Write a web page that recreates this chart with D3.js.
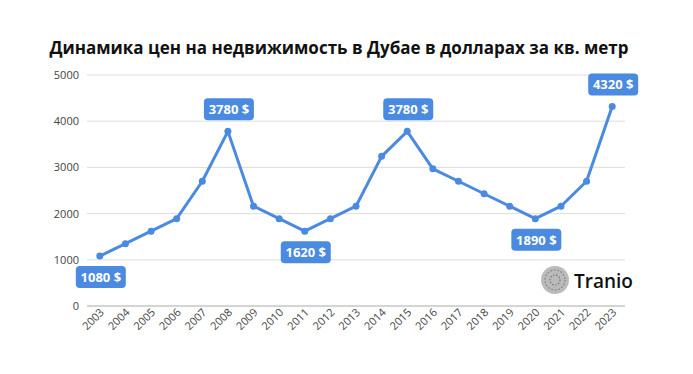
<!DOCTYPE html>
<html>
<head>
<meta charset="utf-8">
<script src="https://cdn.jsdelivr.net/npm/d3@7"></script>
<style>
  body { margin: 0; background: #fff; }
  svg { display: block; font-family: "Open Sans", sans-serif; }
</style>
</head>
<body>
<svg id="chart" width="693" height="374"></svg>
<script>
// price per sq. m in USD
const years = ["2003","2004","2005","2006","2007","2008","2009","2010","2011","2012",
               "2013","2014","2015","2016","2017","2018","2019","2020","2021","2022","2023"];
const prices = [1080, 1350, 1620, 1890, 2700, 3780, 2160, 1890, 1620, 1890,
                2160, 3240, 3780, 2970, 2700, 2430, 2160, 1890, 2160, 2700, 4320];
const yTicks = [0, 1000, 2000, 3000, 4000, 5000];
// which points get a callout, and on which side
const callouts = [
  {year: "2003", pos: "below"},
  {year: "2008", pos: "above"},
  {year: "2011", pos: "below"},
  {year: "2015", pos: "above"},
  {year: "2020", pos: "below"},
  {year: "2023", pos: "above"}
];

const data = years.map((y, i) => ({year: y, value: prices[i]}));

const svg = d3.select("#chart");
const blue = "#4a8ae0";

const x = d3.scalePoint().domain(years).range([87, 625]).padding(0.5);
const y = d3.scaleLinear().domain([0, 5000]).range([306, 75]);

// title - shrink font until it is about as wide as in the original
const title = svg.append("text")
  .attr("x", 339).attr("y", 54)
  .attr("text-anchor", "middle")
  .attr("font-size", 20).attr("font-weight", 700)
  .attr("fill", "#111")
  .text("Динамика цен на недвижимость в Дубае в долларах за кв. метр");
let fs = 20;
while (title.node().getComputedTextLength() > 582 && fs > 14) {
  fs -= 0.25;
  title.attr("font-size", fs);
}

// gridlines + y labels
const yAxis = svg.append("g");
yAxis.selectAll("line").data(yTicks).join("line")
  .attr("x1", 87).attr("x2", 625)
  .attr("y1", d => y(d)).attr("y2", d => y(d))
  .attr("stroke", d => d === 0 ? "#aaa" : "#ddd")
  .attr("stroke-width", 1);
yAxis.selectAll("text").data(yTicks).join("text")
  .attr("x", 79).attr("y", d => y(d) + 4)
  .attr("text-anchor", "end")
  .attr("font-size", 11).attr("fill", "#444")
  .text(d => d);

// x labels, rotated
svg.append("g").selectAll("text").data(years).join("text")
  .attr("transform", d => `translate(${x(d) + 5},${313}) rotate(-45)`)
  .attr("text-anchor", "end")
  .attr("font-size", 11).attr("fill", "#444")
  .text(d => d);

// line
svg.append("path").datum(data)
  .attr("fill", "none").attr("stroke", blue)
  .attr("stroke-width", 3).attr("stroke-linejoin", "round")
  .attr("d", d3.line().x(d => x(d.year)).y(d => y(d.value)));

svg.append("g").selectAll("circle").data(data).join("circle")
  .attr("cx", d => x(d.year)).attr("cy", d => y(d.value))
  .attr("r", 3.5).attr("fill", blue);

// callout labels
const lab = svg.append("g").selectAll("g").data(callouts).join("g")
  .attr("transform", c => {
    const v = prices[years.indexOf(c.year)];
    const dy = c.pos === "above" ? -22 : 21;
    return `translate(${x(c.year) + 1},${y(v) + dy})`;
  });
lab.append("rect")
  .attr("x", -25).attr("y", -11).attr("width", 50).attr("height", 22)
  .attr("rx", 4).attr("fill", blue);
lab.append("text")
  .attr("text-anchor", "middle").attr("y", 5)
  .attr("font-size", 13).attr("font-weight", 700).attr("fill", "#fff")
  .text(c => prices[years.indexOf(c.year)] + " $");

// Tranio logo
const logo = svg.append("g").attr("transform", "translate(555,280)");
logo.append("circle").attr("r", 14).attr("fill", "#bbb");
logo.append("circle").attr("r", 10).attr("fill", "none").attr("stroke", "#888")
  .attr("stroke-width", 1.2).attr("stroke-dasharray", "2 1.5");
logo.append("circle").attr("r", 5).attr("fill", "none").attr("stroke", "#777")
  .attr("stroke-width", 1.2).attr("stroke-dasharray", "1.5 1.5");
svg.append("text")
  .attr("x", 574).attr("y", 288)
  .attr("font-size", 19).attr("font-weight", 600).attr("fill", "#111")
  .text("Tranio");
</script>
</body>
</html>
